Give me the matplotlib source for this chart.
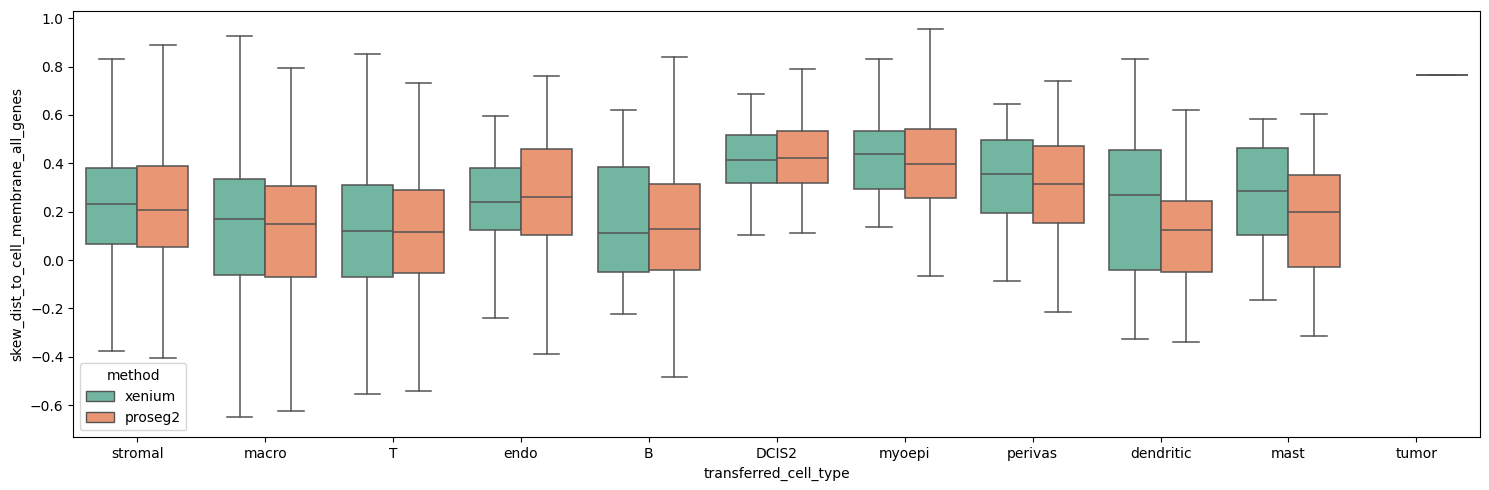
import matplotlib
matplotlib.use("Agg")
import matplotlib.pyplot as plt
from matplotlib.patches import Patch
import seaborn as sns

cell_types = ["stromal", "macro", "T", "endo", "B", "DCIS2", "myoepi",
              "perivas", "dendritic", "mast", "tumor"]
methods = ["xenium", "proseg2"]

# box stats: whisker low, q1, median, q3, whisker high
xenium_lo = [-0.375, -0.65, -0.555, -0.24, -0.225, 0.105, 0.135, -0.085, -0.325, -0.165]
xenium_q1 = [0.065, -0.063, -0.07, 0.125, -0.05, 0.32, 0.295, 0.195, -0.04, 0.105]
xenium_med = [0.23, 0.17, 0.12, 0.24, 0.11, 0.415, 0.44, 0.355, 0.27, 0.285]
xenium_q3 = [0.38, 0.335, 0.31, 0.38, 0.385, 0.515, 0.535, 0.495, 0.455, 0.465]
xenium_hi = [0.83, 0.925, 0.85, 0.595, 0.62, 0.685, 0.83, 0.645, 0.83, 0.585]

# proseg2 also has tumor (a single value)
proseg2_lo = [-0.405, -0.625, -0.54, -0.39, -0.485, 0.11, -0.065, -0.215, -0.34, -0.315, 0.765]
proseg2_q1 = [0.055, -0.07, -0.055, 0.105, -0.04, 0.32, 0.255, 0.155, -0.05, -0.03, 0.765]
proseg2_med = [0.205, 0.15, 0.115, 0.26, 0.13, 0.42, 0.395, 0.315, 0.125, 0.2, 0.765]
proseg2_q3 = [0.39, 0.305, 0.29, 0.46, 0.315, 0.535, 0.54, 0.47, 0.245, 0.35, 0.765]
proseg2_hi = [0.89, 0.795, 0.73, 0.76, 0.84, 0.79, 0.955, 0.74, 0.62, 0.605, 0.765]

pal = [sns.desaturate(c, 0.75) for c in sns.color_palette("Set2", 2)]
line_col = "#545454"


def make_stats(lo, q1, med, q3, hi):
    return [dict(whislo=a, q1=b, med=c, q3=d, whishi=e, fliers=[])
            for a, b, c, d, e in zip(lo, q1, med, q3, hi)]


fig, ax = plt.subplots(figsize=(14.89, 4.9), dpi=100)

props = dict(
    patch_artist=True, showfliers=False, widths=0.4,
    medianprops=dict(color=line_col, linewidth=1.1),
    whiskerprops=dict(color=line_col, linewidth=1.1),
    capprops=dict(color=line_col, linewidth=1.1),
)

groups = [
    (make_stats(xenium_lo, xenium_q1, xenium_med, xenium_q3, xenium_hi), -0.2, pal[0]),
    (make_stats(proseg2_lo, proseg2_q1, proseg2_med, proseg2_q3, proseg2_hi), 0.2, pal[1]),
]
for stats, off, col in groups:
    b = ax.bxp(stats, positions=[i + off for i in range(len(stats))], **props)
    for box in b["boxes"]:
        box.set_facecolor(col)
        box.set_edgecolor(line_col)
        box.set_linewidth(1.1)

ax.set_xticks(range(len(cell_types)))
ax.set_xticklabels(cell_types)
ax.set_xlim(-0.5, len(cell_types) - 0.5)
ax.set_ylim(-0.733, 1.031)
ax.set_xlabel("transferred_cell_type")
ax.set_ylabel("skew_dist_to_cell_membrane_all_genes")

handles = [Patch(facecolor=pal[i], edgecolor=line_col, label=m) for i, m in enumerate(methods)]
ax.legend(handles=handles, title="method", loc="lower left")

fig.subplots_adjust(left=0.0492, right=0.9942, top=0.9782, bottom=0.1076)
plt.savefig("out.png")
